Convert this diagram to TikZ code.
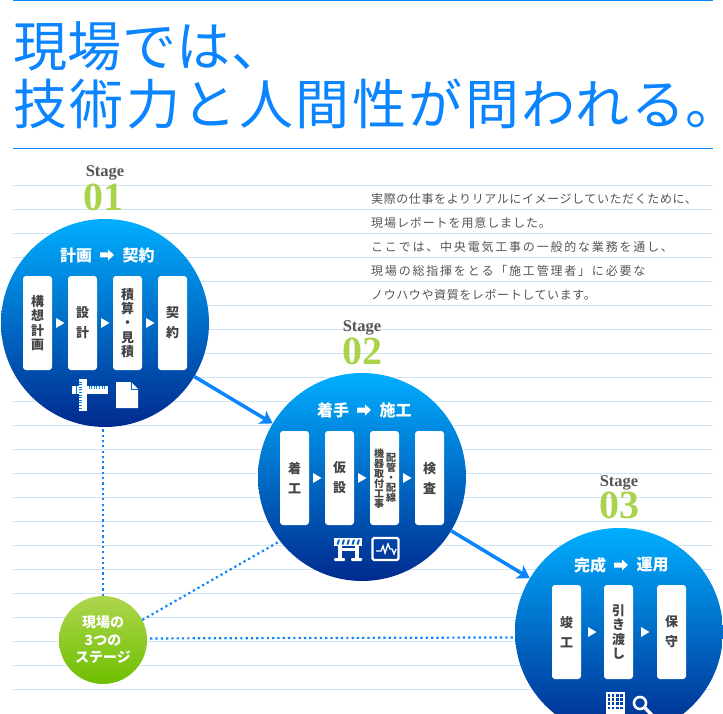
\documentclass[tikz,border=0pt]{standalone}
\usepackage{fontspec}
\setmainfont{Noto Sans CJK JP}
\newfontfamily\stagefont{Liberation Serif}
\usetikzlibrary{arrows.meta}
\definecolor{mainblue}{HTML}{0A84FF}
\definecolor{rulecol}{HTML}{D2E4F3}
\definecolor{ctop}{HTML}{00AEFF}
\definecolor{cmid}{HTML}{0080E0}
\definecolor{cbot}{HTML}{002A8E}
\definecolor{gtop}{HTML}{AED64E}
\definecolor{gbot}{HTML}{6EBF00}
\definecolor{stagegreen}{HTML}{A9D34A}
\definecolor{stagegray}{HTML}{555555}
\definecolor{boxtext}{HTML}{444444}
\definecolor{paratext}{HTML}{555555}
\tikzset{
  bigcircle/.style={circle,inner sep=0pt,minimum size=208pt,top color=ctop,middle color=cmid,bottom color=cbot,draw=none},
  greencircle/.style={circle,inner sep=0pt,minimum size=88pt,top color=gtop,bottom color=gbot,draw=none,text=white,align=center,font=\fontsize{14}{17.5}\selectfont\bfseries},
  stepbox/.style={fill=white,rounded corners=3pt,minimum width=29pt,minimum height=94pt,inner sep=0pt,text=boxtext,align=center},
  tight/.style={font=\fontsize{13}{14.4}\selectfont\bfseries},
  loose/.style={font=\fontsize{13}{20}\selectfont\bfseries},
  small/.style={font=\fontsize{10}{10}\selectfont\bfseries,text=boxtext,align=center,inner sep=0pt},
  headtext/.style={text=white,font=\fontsize{16}{16}\selectfont\bfseries,inner sep=0pt},
  stagelabel/.style={font=\fontsize{16.5}{16.5}\selectfont\stagefont\bfseries,text=stagegray,inner sep=0pt},
  stagenum/.style={font=\fontsize{40}{40}\selectfont\stagefont\bfseries,text=stagegreen,inner sep=0pt},
  titletext/.style={font=\fontsize{54}{54}\selectfont,text=mainblue,inner sep=0pt,anchor=west},
  paraline/.style={font=\fontsize{12}{12}\selectfont,text=paratext,inner sep=0pt,anchor=west},
  arrowline/.style={draw=mainblue,line width=3.5pt,-{Stealth[length=12pt,width=15pt,inset=3pt]}},
  dotline/.style={draw=mainblue,line width=2.2pt,dash pattern=on 2.2pt off 3.1pt}
}
\newcommand{\tri}[2]{\fill[white] (#1,#2) ++(0,-5) -- ++(8.5,5) -- ++(-8.5,5) -- cycle;}
\newcommand{\blockarrow}[2]{\fill[white] (#1,#2) ++(0,-2.5) -- ++(8,0) -- ++(0,-3) -- ++(6,5.5) -- ++(-6,5.5) -- ++(0,-3) -- ++(-8,0) -- cycle;}
\begin{document}
\begin{tikzpicture}[x=1pt,y=-1pt]
\useasboundingbox (0,0) rectangle (723,714);
\clip (0,0) rectangle (723,714);
% rules
\draw[mainblue,line width=1pt] (13,0.5) -- (713,0.5);
\draw[mainblue,line width=1pt] (13,148.5) -- (713,148.5);
\foreach \k in {0,...,21} {\draw[rulecol,line width=1pt] (13,185.5+24*\k) -- (713,185.5+24*\k);}
% title
\node[titletext] (t1) at (13,46) {\addfontfeature{LetterSpace=1}現場では、};
\node[titletext] (t2) at (13,104) {\addfontfeature{LetterSpace=4.6}技術力と人間性が問われる\makebox[26pt][l]{。}};
% paragraph
\node[paraline] (p1) at (371,199) {\addfontfeature{LetterSpace=5}実際の仕事をよりリアルにイメージしていただくために、};
\node[paraline] (p2) at (371,223) {\addfontfeature{LetterSpace=7.5}現場レポートを用意しました。};
\node[paraline] (p3) at (371,247) {\addfontfeature{LetterSpace=15}ここでは、中央電気工事の一般的な業務を通し、};
\node[paraline] (p4) at (371,271) {\addfontfeature{LetterSpace=15}現場の総指揮をとる「施工管理者」に必要な};
\node[paraline] (p5) at (371,295) {\addfontfeature{LetterSpace=5}ノウハウや資質をレポートしています。};
% stage labels
\node[stagelabel] (s1) at (105,173) {Stage};
\node[stagenum] (n1) at (103.5,197) {01};
\node[stagelabel] (s2) at (362,328) {Stage};
\node[stagenum] (n2) at (362,351) {02};
\node[stagelabel] (s3) at (619,483) {Stage};
\node[stagenum] (n3) at (619,505) {03};
% circles
\node[bigcircle] (c1) at (105,323) {};
\node[bigcircle] (c2) at (362,477) {};
\node[bigcircle] (c3) at (619,632) {};
\node[greencircle] (g) at (103,640) {現場の\\3つの\\ステージ};
% connectors
\draw[arrowline] (c1) -- (c2);
\draw[arrowline] (c2) -- (c3);
\draw[dotline] (g.north) -- (g.north |- c1.south);
\draw[dotline] (g.27) -- (c2.218);
\draw[dotline,shorten <=3pt] (g.2.6) -- (c3.183.3);
% circle 1
\node[headtext] (h1a) at (76,255) {計画};
\blockarrow{100}{255}
\node[headtext] (h1b) at (138.5,255) {契約};
\node[stepbox,tight] (b11) at (37.5,323) {構\\想\\計\\画};
\node[stepbox,loose] (b12) at (82.5,323) {設\\計};
\node[stepbox,tight] (b13) at (127.5,323) {積\\算\\・\\見\\積};
\node[stepbox,loose] (b14) at (172.5,323) {契\\約};
\tri{56}{323}\tri{101}{323}\tri{146}{323}
% ruler icon
\fill[white] (72,386) rectangle (108,394);
\fill[white] (78.5,379) rectangle (87,411);
\foreach \i in {0,...,6} {\draw[ctop!30!cmid,line width=.7pt] (89+2.6*\i,386) -- (89+2.6*\i,389);}
\foreach \i in {0,...,10} {\draw[cmid,line width=.7pt] (78.5,382+2.6*\i) -- (81.5,382+2.6*\i);}
\draw[cmid,line width=1pt] (76,386) -- (76,394);
% document icon
\fill[white] (116,382) -- (131,382) -- (138,389) -- (138,408) -- (116,408) -- cycle;
\draw[cmid!70!cbot,line width=.8pt] (131,382) -- (131,389) -- (138,389);
% circle 2
\node[headtext] (h2a) at (333,410) {着手};
\blockarrow{357}{410}
\node[headtext] (h2b) at (395.5,410) {施工};
\node[stepbox,loose] (b21) at (294.5,478) {着\\工};
\node[stepbox,loose] (b22) at (339.5,478) {仮\\設};
\node[stepbox] (b23) at (384.5,478) {};
\node[stepbox,loose] (b24) at (429.5,478) {検\\査};
\node[small] (b23a) at (391,477.5) {配\\管\\・\\配\\線};
\node[small] (b23b) at (379,478.5) {機\\器\\取\\付\\工\\事};
\tri{313}{478}\tri{358}{478}\tri{403}{478}
% barrier icon
\fill[white] (334,538) rectangle (362,546);
\foreach \i in {0,...,4} {\fill[cmid!60!cbot] (338+5*\i,539.5) -- (340+5*\i,539.5) -- (338.5+5*\i,544.5) -- (336.5+5*\i,544.5) -- cycle;}
\fill[white] (338,546) rectangle (342,558);
\fill[white] (355,546) rectangle (358.5,558);
\fill[white] (338,548) rectangle (358,551);
\fill[white,rounded corners=1pt] (334,558) rectangle (345,561);
\fill[white,rounded corners=1pt] (351,558) rectangle (362,561);
% monitor icon
\draw[white,line width=2.4pt,rounded corners=1.5pt] (372.5,538) rectangle (398.5,560);
\draw[white,line width=1.3pt] (376,551) -- (381,551) -- (383,546) -- (385,553) -- (388,544) -- (390,549) -- (392,549) -- (394,554) -- (396,549);
% circle 3
\node[headtext] (h3a) at (590,565) {完成};
\blockarrow{614}{565}
\node[headtext] (h3b) at (652.5,565) {運用};
\node[stepbox,loose] (b31) at (566.5,632) {竣\\工};
\node[stepbox,tight] (b32) at (618.5,632) {引\\き\\渡\\し};
\node[stepbox,loose] (b33) at (671.5,632) {保\\守};
\tri{588}{632}\tri{641}{632}
% building icon
\fill[white] (606,692) rectangle (625,714);
\foreach \i in {0,1,2,3} \foreach \j in {0,1,2,3} {\fill[cbot!70!cmid] (607.5+4.2*\i,694+4.2*\j) rectangle (610.2+4.2*\i,696.7+4.2*\j);}
% magnifier icon
\draw[white,line width=2.6pt] (640,703) circle[radius=6pt];
\draw[white,line width=3.5pt] (644.5,707.5) -- (653,716);
\end{tikzpicture}
\end{document}
